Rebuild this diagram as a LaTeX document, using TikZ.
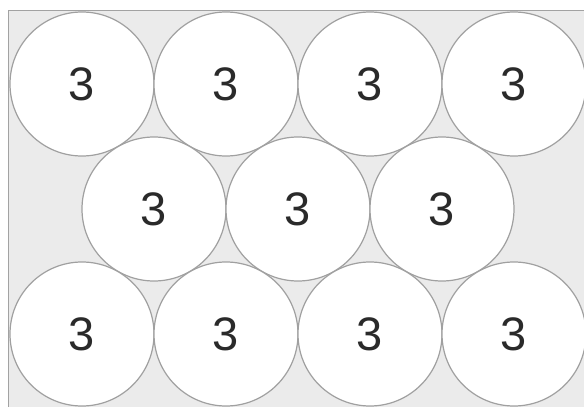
\documentclass[tikz,border=0pt]{standalone}
\usepackage{fontspec}
\setmainfont{Liberation Sans}
\usepackage{tikz}
\usetikzlibrary{positioning}
\usepackage{xcolor}
\definecolor{boxfill}{HTML}{EBEBEB}
\definecolor{boxline}{HTML}{A2A2A2}
\definecolor{ballline}{HTML}{A0A0A0}
\definecolor{digit}{HTML}{2A2A2A}

\begin{document}
\begin{tikzpicture}[x = 1pt, y = -1pt, node distance = 144pt,
        ball/.style={circle, draw=ballline, fill=white, line width=1.2pt, minimum size=144pt, inner sep=0pt, outer sep=0pt,
            text=digit, font=\fontsize{47}{47}\selectfont},
        tray/.style={draw=boxline, fill=boxfill, line width=1.6pt}
    ]

        % Frame
        \useasboundingbox (0,0) rectangle (584,407);
        \clip (0,0) rectangle (584,407);
        \draw[tray] (8.5,10.5) rectangle (620,440);

        % Nodes: top row
        \node[ball] (t1) at (82,84) {3};
        \node[ball, right of = t1] (t2) {3};
        \node[ball, right of = t2] (t3) {3};
        \node[ball, right of = t3] (t4) {3};

        % Nodes: middle row
        \node[ball, below of = t1, yshift = 19pt, xshift = 72pt] (m1) {3};
        \node[ball, right of = m1] (m2) {3};
        \node[ball, right of = m2] (m3) {3};

        % Nodes: bottom row
        \node[ball, below of = m1, yshift = 19pt, xshift = -72pt] (b1) {3};
        \node[ball, right of = b1] (b2) {3};
        \node[ball, right of = b2] (b3) {3};
        \node[ball, right of = b3] (b4) {3};
\end{tikzpicture}
\end{document}
